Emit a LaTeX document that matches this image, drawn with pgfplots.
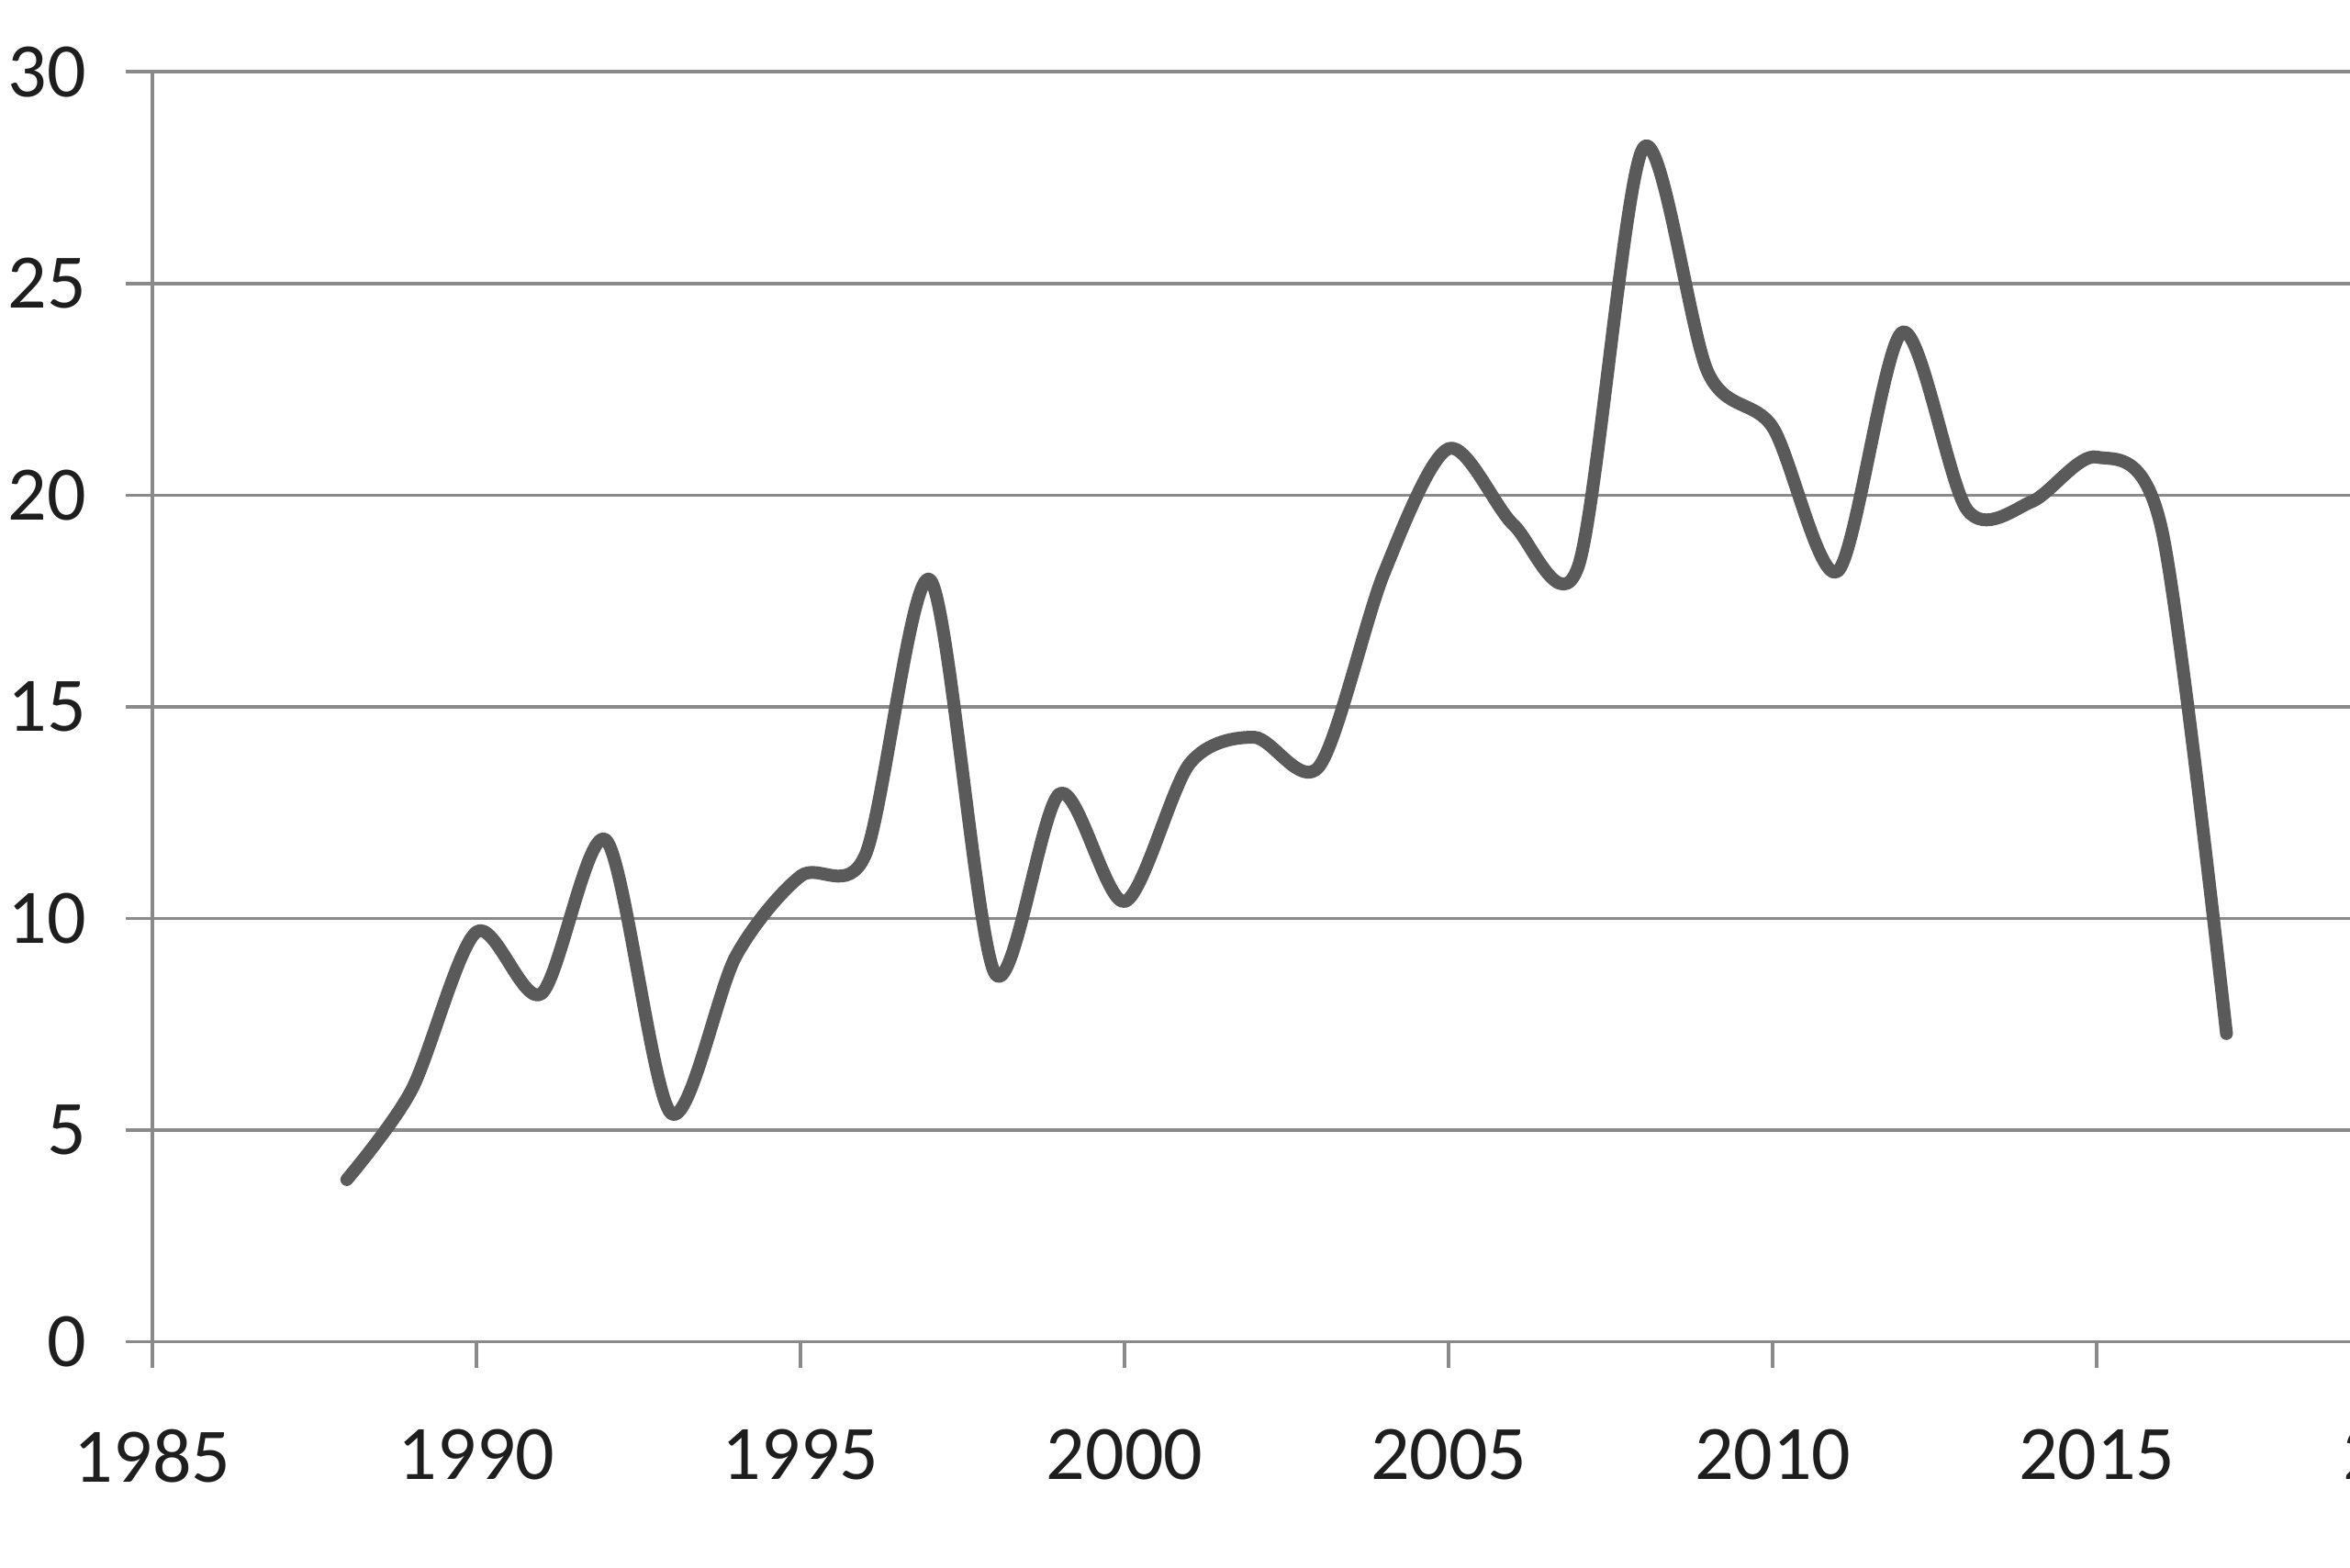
\documentclass[border=0pt]{standalone}
\usepackage{fontspec}
\setmainfont{Carlito}
\usepackage{pgfplots}
\pgfplotsset{compat=1.18}
\definecolor{gridc}{HTML}{8A8A8A}
\definecolor{linec}{HTML}{5A5A5A}
\definecolor{txt}{HTML}{1E1E1E}
\begin{document}
\begin{tikzpicture}
\useasboundingbox (0,0) rectangle (320pt,213.375pt);
\clip (0,0) rectangle (320pt,213.375pt);
\begin{axis}[
  at={(20.75pt,30.69pt)}, anchor=south west,
  scale only axis, width=308.9pt, height=172.9pt,
  xmin=1985, xmax=2020, ymin=0, ymax=30,
  axis x line=bottom, axis y line=left,
  axis line style={gridc, line width=0.45pt, -},
  xtick={1985,1990,...,2020}, ytick={0,5,...,30},
  tick align=outside, major tick length=3.6pt,
  tick style={gridc, line width=0.45pt},
  ymajorgrids, grid style={gridc, line width=0.45pt},
  /pgf/number format/1000 sep={},
  /pgf/number format/assume math mode=true,
  tick label style={font=\fontsize{10.5}{12.5}\selectfont, text=txt},
  xticklabel style={yshift=-4.8pt},
  yticklabel style={xshift=-1.9pt},
  clip=false,
]
\addplot[linec, line width=1.75pt, smooth, tension=0.5, line cap=round, line join=round] coordinates {
(1988,3.83) (1989,5.95) (1990,9.68) (1991,8.22) (1992,11.85) (1993,5.4)
(1994,9.1) (1995,11.0) (1996,11.5) (1997,18.0) (1998,8.7) (1999,12.95)
(2000,10.4) (2001,13.65) (2002,14.28) (2003,13.59) (2004,18.15) (2005,21.1)
(2006,19.3) (2007,18.32) (2008,28.2) (2009,22.9) (2010,21.6) (2011,18.2)
(2012,23.85) (2013,19.65) (2014,19.85) (2015,20.9) (2016,19.2) (2017,7.28)
};
\end{axis}
\end{tikzpicture}
\end{document}
